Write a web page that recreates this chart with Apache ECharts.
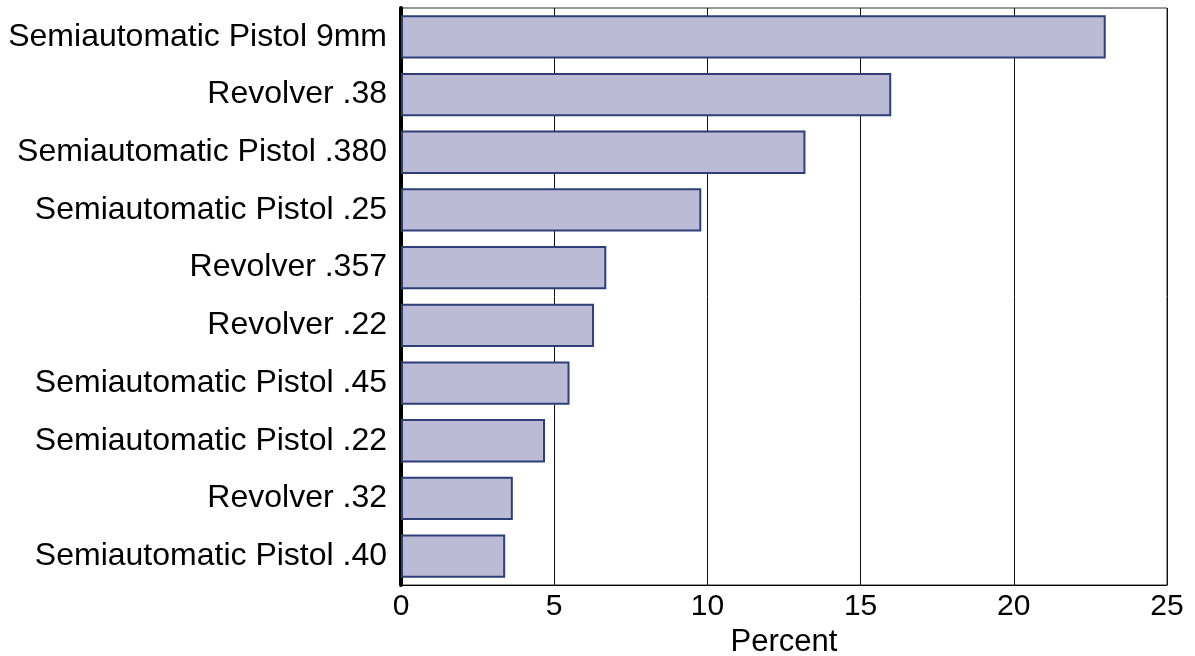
<!DOCTYPE html>
<html>
<head>
<meta charset="utf-8">
<script src="https://cdn.jsdelivr.net/npm/echarts@6/dist/echarts.min.js"></script>
<style>
  html, body { margin: 0; padding: 0; background: #fff; }
  #chart { width: 1195px; height: 656px; }
</style>
</head>
<body>
<div id="chart"></div>
<script>
// Handgun types, percent
var categories = [
    'Semiautomatic Pistol 9mm',
    'Revolver .38',
    'Semiautomatic Pistol .380',
    'Semiautomatic Pistol .25',
    'Revolver .357',
    'Revolver .22',
    'Semiautomatic Pistol .45',
    'Semiautomatic Pistol .22',
    'Revolver .32',
    'Semiautomatic Pistol .40'
];
var percents = [23.0, 16.0, 13.2, 9.8, 6.7, 6.3, 5.5, 4.7, 3.65, 3.4];
var xTicks = [0, 5, 10, 15, 20, 25];

var chart = echarts.init(document.getElementById('chart'));
var option = {
    backgroundColor: '#fff',
    animation: false,
    textStyle: { fontFamily: 'Liberation Sans, Arial, sans-serif' },
    grid: {
        left: 401,
        right: 28,
        top: 8,
        bottom: 71,
        show: true,
        borderColor: '#333',
        borderWidth: 1,
        containLabel: false,
        outerBoundsMode: 'none'
    },
    xAxis: {
        type: 'value',
        min: xTicks[0],
        max: xTicks[xTicks.length - 1],
        interval: 5,
        name: 'Percent',
        nameLocation: 'middle',
        nameGap: 42,
        nameTextStyle: { fontSize: 31, color: '#000' },
        axisLine: { show: true, lineStyle: { color: '#000', width: 1 } },
        axisTick: { show: false },
        axisLabel: { fontSize: 30, color: '#000', margin: 7 },
        splitLine: { show: true, lineStyle: { color: '#111', width: 1 } }
    },
    yAxis: {
        type: 'category',
        data: categories,
        inverse: true,
        axisLine: { show: true, lineStyle: { color: '#000', width: 4 } },
        axisTick: { show: false },
        axisLabel: { fontSize: 32, color: '#000', margin: 14 }
    },
    series: [{
        type: 'bar',
        data: percents,
        barCategoryGap: '25%',
        itemStyle: {
            color: '#bcbbd5',
            borderColor: '#2e3f78',
            borderWidth: 2
        }
    }]
};
chart.setOption(option);
</script>
</body>
</html>
